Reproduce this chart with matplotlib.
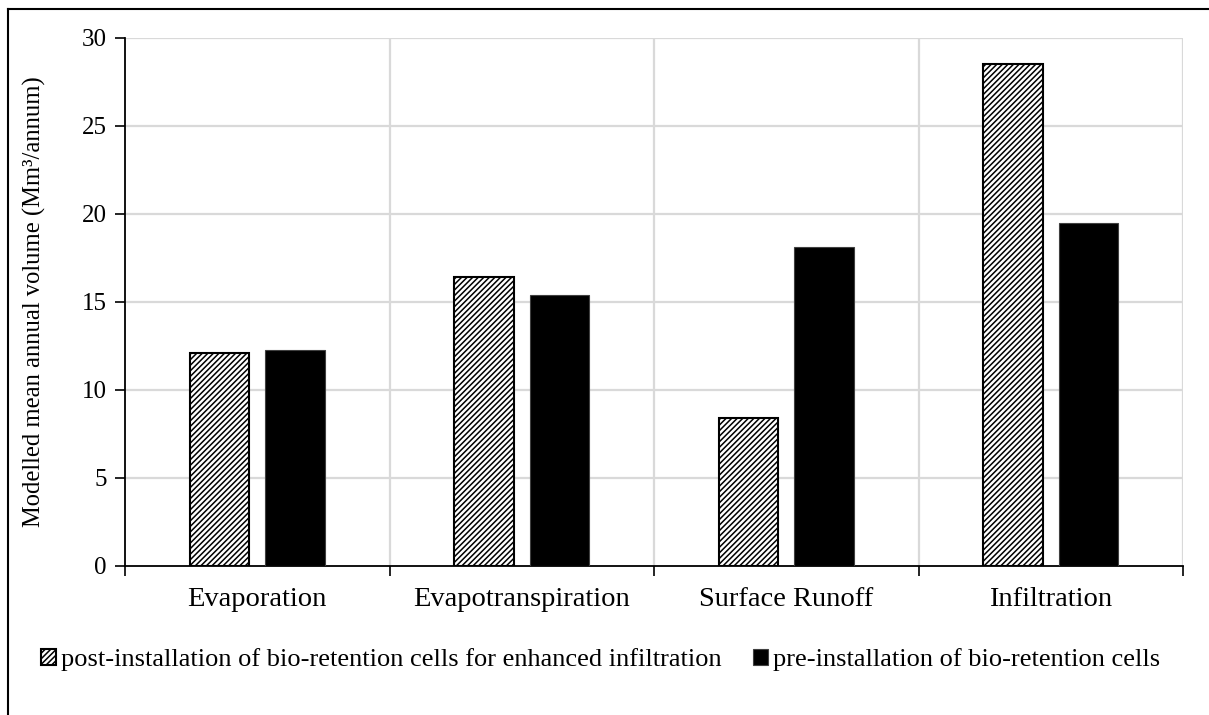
import matplotlib
matplotlib.use("Agg")
import matplotlib.pyplot as plt
import numpy as np

categories = ["Evaporation", "Evapotranspiration", "Surface Runoff", "Infiltration"]
post_install = [12.1, 16.4, 8.4, 28.5]
pre_install = [12.3, 15.4, 18.1, 19.5]
series_labels = [
    "post-installation of bio-retention cells for enhanced infiltration",
    "pre-installation of bio-retention cells",
]
y_ticks = [0, 5, 10, 15, 20, 25, 30]

plt.rcParams["font.family"] = ["Liberation Serif", "DejaVu Serif"]
plt.rcParams["hatch.linewidth"] = 1.1

fig = plt.figure(figsize=(12.09, 7.15), dpi=100)
ax = fig.add_axes([0.1034, 0.2084, 0.8751, 0.7385])

x = np.arange(len(categories))
width = 0.225
offset = 0.1435

ax.bar(x - offset, post_install, width, color="white", edgecolor="black",
       hatch="//////", linewidth=1.5, label=series_labels[0], zorder=3)
ax.bar(x + offset, pre_install, width, color="black", edgecolor="#404040",
       linewidth=0.8, label=series_labels[1], zorder=3)

ax.set_xlim(-0.5, len(categories) - 0.5)
ax.set_ylim(0, 30)
ax.set_yticks(y_ticks)
ax.tick_params(axis="y", direction="out", length=7, width=1.2, labelsize=18, pad=6)

# category labels centred, tick marks at category boundaries
ax.set_xticks(x)
ax.set_xticklabels(categories, fontsize=20.5)
ax.tick_params(axis="x", which="major", length=0, pad=15)
ax.set_xticks(np.arange(-0.5, len(categories)), minor=True)
ax.tick_params(axis="x", which="minor", direction="out", length=7, width=1.2)

# grid: horizontal at each y tick, vertical at category boundaries
for yv in y_ticks[1:]:
    ax.axhline(yv, color="#d9d9d9", linewidth=1.6, zorder=1)
for xv in np.arange(0.5, len(categories)):
    ax.axvline(xv, color="#d9d9d9", linewidth=1.6, zorder=1)

for side in ("top", "right"):
    ax.spines[side].set_visible(False)
ax.spines["left"].set_linewidth(1.3)
ax.spines["bottom"].set_linewidth(1.3)

ax.set_ylabel("Modelled mean annual volume (Mm³/annum)", fontsize=17.7, labelpad=26)

fig.legend(loc="center", bbox_to_anchor=(0.497, 0.077), ncol=2, frameon=False,
           fontsize=19, handlelength=0.55, handleheight=0.55, handletextpad=0.2,
           columnspacing=1.2)

# outer frame lines along the top and left edge
fig.add_artist(plt.Line2D([8 / 1209, 1.0], [1 - 9 / 715, 1 - 9 / 715],
                          transform=fig.transFigure, color="black", linewidth=1.5))
fig.add_artist(plt.Line2D([8 / 1209, 8 / 1209], [0.0, 1 - 9 / 715],
                          transform=fig.transFigure, color="black", linewidth=1.5))

fig.savefig("out.png", dpi=100)
